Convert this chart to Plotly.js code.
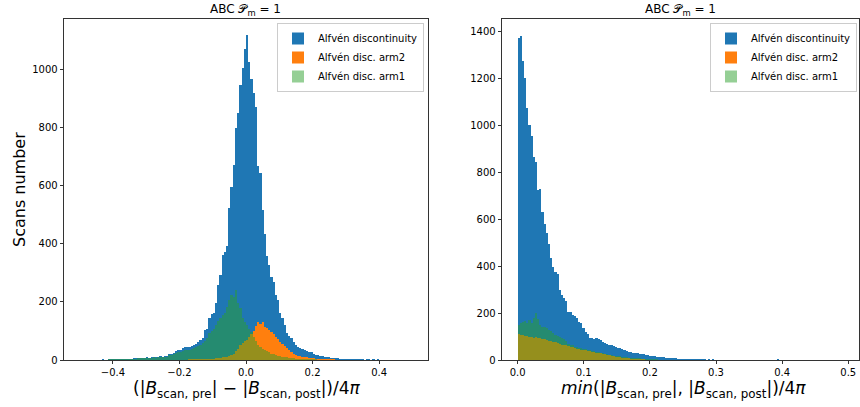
<!DOCTYPE html>
<html>
<head>
<meta charset="utf-8">
<script src="https://cdn.plot.ly/plotly-3.0.1.min.js"></script>
<style>html,body{margin:0;padding:0;background:#fff;}#chart{width:860px;height:407px;}</style>
</head>
<body>
<div id="chart"></div>
<script>
// ---- Data (histogram counts) ----
const seriesNames = ["Alfvén discontinuity", "Alfvén disc. arm2", "Alfvén disc. arm1"];
const panelTitle = "ABC 𝒫<sub>m</sub> = 1";

// Left panel: 150 bins from -0.5 to 0.5
const leftBinStart = -0.5;
const leftBinWidth = 1.0 / 150;
const leftDisc = [
  0,0,0,0,0,0,0,0,0,1,
  2,1,1,3,2,4,3,5,4,3,
  2,4,5,5,6,6,7,8,7,8,
  9,8,10,11,10,12,13,12,15,14,
  20,22,24,30,34,36,40,44,44,46,
  48,50,55,63,69,75,104,107,144,158,
  161,195,259,293,362,373,393,524,594,670,
  799,851,947,1006,1071,1118,1025,968,920,871,
  667,644,516,432,357,328,287,269,224,207,
  161,144,121,92,84,75,63,52,45,40,
  38,36,32,29,27,22,18,17,15,13,
  11,9,9,8,7,6,6,5,5,4,
  5,4,4,3,4,3,2,2,1,2,
  2,1,2,1,2,1,0,0,1,0,
  0,0,0,0,0,0,0,0,0,0
];
const leftArm2 = [
  0,0,0,0,0,0,0,0,0,0,
  0,0,0,0,0,0,0,0,0,0,
  0,0,0,0,0,0,0,0,0,0,
  0,0,0,0,0,0,0,0,0,0,
  0,0,0,0,0,1,1,1,1,2,
  2,2,2,3,3,3,4,4,4,5,
  5,6,7,8,9,10,12,14,16,20,
  30,38,50,58,64,70,78,88,100,118,
  132,124,132,114,110,102,96,88,80,72,
  62,55,48,40,34,28,22,18,15,13,
  11,10,9,8,7,6,5,4,4,3,
  3,3,2,2,2,1,1,1,1,1,
  0,0,0,0,0,0,0,0,0,0,
  0,0,0,0,0,0,0,0,0,0,
  0,0,0,0,0,0,0,0,0,0
];
const leftArm1 = [
  0,0,0,0,0,0,0,0,0,1,
  1,1,1,2,2,3,2,3,3,2,
  2,3,4,4,5,5,6,6,6,7,
  7,7,8,9,8,10,10,10,12,12,
  16,18,20,24,26,28,30,33,34,35,
  38,40,44,48,52,58,66,76,92,100,
  108,120,134,146,154,160,184,207,222,216,
  240,196,178,146,132,120,106,96,80,64,
  52,44,38,34,30,26,22,20,17,15,
  13,11,10,9,8,7,6,5,5,4,
  4,3,3,3,2,2,2,1,1,1,
  1,1,0,1,0,0,1,0,0,0,
  0,0,0,0,0,0,0,0,0,0,
  0,0,0,0,0,0,0,0,0,0,
  0,0,0,0,0,0,0,0,0,0
];

// Right panel: 150 bins from 0 to 0.49
const rightBinStart = 0.0;
const rightBinWidth = 0.49 / 150;
const rightDisc = [
  1376,1383,1275,1202,1074,1002,955,866,846,725,
  728,632,579,540,497,434,398,377,365,298,
  277,263,252,206,204,192,188,178,163,158,
  135,121,109,96,94,90,92,88,84,78,
  74,70,66,62,58,55,52,50,46,43,
  40,36,34,32,30,28,27,25,24,22,
  20,18,16,15,14,13,12,11,10,9,
  8,8,7,7,6,6,5,5,5,4,
  5,4,4,3,4,3,3,2,3,2,
  3,2,2,2,1,2,1,2,1,1,
  1,1,2,1,0,1,1,0,1,1,
  0,1,0,1,0,0,1,0,0,1,
  3,0,1,0,0,1,0,0,0,0,
  0,1,0,0,0,0,0,0,1,0,
  0,0,0,0,0,0,0,0,0,1
];
const rightArm2 = [
  111,108,106,104,102,100,98,96,99,94,
  92,90,88,86,83,80,78,75,72,70,
  66,64,62,58,57,55,52,48,45,43,
  43,41,39,37,35,34,32,30,28,26,
  24,22,20,18,16,14,12,11,10,9,
  8,7,6,5,5,4,4,3,3,2,
  2,2,1,1,1,1,0,1,0,0,
  0,0,0,0,0,0,0,0,0,0,
  0,0,0,0,0,0,0,0,0,0,
  0,0,0,0,0,0,0,0,0,0,
  0,0,0,0,0,0,0,0,0,0,
  0,0,0,0,0,0,0,0,0,0,
  0,0,0,0,0,0,0,0,0,0,
  0,0,0,0,0,0,0,0,0,0,
  0,0,0,0,0,0,0,0,0,0
];
const rightArm1 = [
  149,160,163,165,158,170,160,178,202,175,
  148,142,140,135,128,124,115,108,102,98,
  92,88,80,70,66,64,57,55,52,50,
  48,47,44,42,40,38,36,34,32,30,
  27,25,22,20,19,18,16,15,14,12,
  11,10,10,9,8,7,7,6,5,5,
  4,4,3,3,3,2,2,2,2,1,
  1,1,1,1,0,1,0,1,0,0,
  0,0,0,0,0,0,0,0,0,0,
  0,0,0,0,0,0,0,0,0,0,
  0,0,0,0,0,0,0,0,0,0,
  0,0,0,0,0,0,0,0,0,0,
  0,0,0,0,0,0,0,0,0,0,
  0,0,0,0,0,0,0,0,0,0,
  0,0,0,0,0,0,0,0,0,0
];

const colors = ["#1f77b4", "#ff7f0e", "rgba(44,160,44,0.5)"];

function centers(start, width, n) {
  const c = [];
  for (let i = 0; i < n; i++) c.push(start + (i + 0.5) * width);
  return c;
}

const W = 860, H = 407;
const L = {x0: 64, x1: 428}, R = {x0: 502, x1: 859};
const yTop = 19, yBot = 360;

const traces = [];
[[leftDisc, leftArm2, leftArm1], [rightDisc, rightArm2, rightArm1]].forEach((set, p) => {
  const start = p === 0 ? leftBinStart : rightBinStart;
  const width = p === 0 ? leftBinWidth : rightBinWidth;
  set.forEach((vals, k) => {
    traces.push({
      type: "bar",
      x: centers(start, width, vals.length),
      y: vals,
      width: width,
      name: seriesNames[k],
      marker: {color: colors[k], line: {width: 0}},
      xaxis: p === 0 ? "x" : "x2",
      yaxis: p === 0 ? "y" : "y2",
      legend: p === 0 ? "legend" : "legend2",
      hoverinfo: "skip"
    });
  });
});

const font = {family: "DejaVu Sans, sans-serif", color: "#000"};
const axCommon = {
  showgrid: false, zeroline: false, showline: true, mirror: true,
  linecolor: "#000", linewidth: 0.8,
  ticks: "outside", ticklen: 3.5, tickwidth: 0.8, tickcolor: "#000",
  tickfont: {family: font.family, size: 10, color: "#000"}
};
const ydom = [(H - yBot) / H, (H - yTop) / H];

const legendCommon = {
  bgcolor: "rgba(255,255,255,0.8)", bordercolor: "#cccccc", borderwidth: 1,
  font: {family: font.family, size: 10, color: "#000"},
  xanchor: "right", yanchor: "top", tracegroupgap: 0,
  itemsizing: "constant"
};

const layout = {
  width: W, height: H,
  margin: {l: 0, r: 0, t: 0, b: 0},
  paper_bgcolor: "#fff", plot_bgcolor: "#fff",
  barmode: "overlay", bargap: 0,
  font: font,
  showlegend: true,
  xaxis: Object.assign({}, axCommon, {domain: [L.x0 / W, L.x1 / W], range: [-0.547, 0.547], dtick: 0.2, tick0: 0, tickformat: ".1f", anchor: "y"}),
  yaxis: Object.assign({}, axCommon, {domain: ydom, range: [0, 1173], dtick: 200, tick0: 0, anchor: "x"}),
  xaxis2: Object.assign({}, axCommon, {domain: [R.x0 / W, R.x1 / W], range: [-0.0237, 0.5163], dtick: 0.1, tick0: 0, tickformat: ".1f", anchor: "y2"}),
  yaxis2: Object.assign({}, axCommon, {domain: ydom, range: [0, 1455], dtick: 200, tick0: 0, anchor: "x2"}),
  legend: Object.assign({}, legendCommon, {x: 424 / W, y: 1 - 23 / H}),
  legend2: Object.assign({}, legendCommon, {x: 857 / W, y: 1 - 23 / H}),
  annotations: [
    {text: panelTitle, xref: "paper", yref: "paper", x: (L.x0 + L.x1) / 2 / W, y: 1 - 10 / H, xanchor: "center", yanchor: "middle", showarrow: false, font: {family: font.family, size: 12, color: "#000"}},
    {text: panelTitle, xref: "paper", yref: "paper", x: (R.x0 + R.x1) / 2 / W, y: 1 - 10 / H, xanchor: "center", yanchor: "middle", showarrow: false, font: {family: font.family, size: 12, color: "#000"}},
    {text: "Scans number", xref: "paper", yref: "paper", x: 19 / W, y: 1 - 190 / H, xanchor: "center", yanchor: "middle", textangle: -90, showarrow: false, font: {family: font.family, size: 16, color: "#000"}},
    {text: "(|<i>B</i><sub>scan, pre</sub>| − |<i>B</i><sub>scan, post</sub>|)/4<i>π</i>", xref: "paper", yref: "paper", x: 247 / W, y: 1 - 389 / H, xanchor: "center", yanchor: "middle", showarrow: false, font: {family: font.family, size: 17, color: "#000"}},
    {text: "<i>min</i>(|<i>B</i><sub>scan, pre</sub>|, |<i>B</i><sub>scan, post</sub>|)/4<i>π</i>", xref: "paper", yref: "paper", x: 683 / W, y: 1 - 389 / H, xanchor: "center", yanchor: "middle", showarrow: false, font: {family: font.family, size: 17, color: "#000"}}
  ]
};

Plotly.newPlot("chart", traces, layout, {displayModeBar: false, staticPlot: true});
</script>
</body>
</html>
